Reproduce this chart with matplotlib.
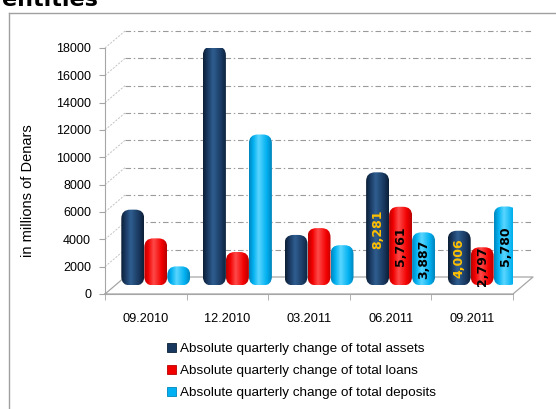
import numpy as np
import matplotlib
matplotlib.use("Agg")
import matplotlib.pyplot as plt
from matplotlib.patches import FancyBboxPatch, Patch
from matplotlib.colors import to_rgb

# ---- data (millions of Denars) ----
periods = ["09.2010", "12.2010", "03.2011", "06.2011", "09.2011"]
total_assets = [5550, 17500, 3700, 8281, 4006]
total_loans = [3450, 2450, 4200, 5761, 2797]
total_deposits = [1400, 11050, 2950, 3887, 5780]
show_values = [False, False, False, True, True]
series_names = [
    "Absolute quarterly change of total assets",
    "Absolute quarterly change of total loans",
    "Absolute quarterly change of total deposits",
]
yticks = list(range(0, 18001, 2000))

plt.rcParams["font.family"] = ["Liberation Sans", "DejaVu Sans"]
plt.rcParams["lines.scale_dashes"] = False

W, H = 556, 409
fig = plt.figure(figsize=(W / 100, H / 100), dpi=100)

# front plane of the plot box, in pixels
L, R, B, T = 105, 513, 294, 48
ax = fig.add_axes([L / W, 1 - B / H, (R - L) / W, (B - T) / H])
ax.set_facecolor("none")
px_x = (R - L) / 5.0
px_y = (B - T) / 18000.0
DX = 20 / px_x          # depth of the floor, horizontal
DY = 17 / px_y          # depth of the floor, vertical

grid_c = "#A6A6A6"
# back-wall gridlines
for v in yticks[1:]:
    ax.plot([-0.5 + DX, 4.5 + DX], [v + DY] * 2, color="#9A9A9A", lw=0.8,
            dashes=(4, 2, 1, 2), clip_on=False, zorder=1)
# side-wall diagonals
for v in yticks[1:]:
    ax.plot([-0.5, -0.5 + DX], [v, v + DY], color="#C4C4C4", lw=0.7,
            dashes=(1.5, 1), clip_on=False, zorder=1)
# floor outline
ax.plot([-0.5, 4.5, 4.5 + DX, -0.5 + DX, -0.5], [0, 0, DY, DY, 0],
        color=grid_c, lw=0.9, clip_on=False, zorder=1)

palettes = [
    ("#0C1F36", "#193860", "#2F5E90"),
    ("#B80000", "#F20000", "#FF4A4A"),
    ("#0085BC", "#00B0F0", "#5AD6FF"),
]


def bar_gradient(edge, mid, light, n=64):
    stops = [0.0, 0.18, 0.42, 0.78, 1.0]
    cols = [to_rgb(edge), to_rgb(mid), to_rgb(light), to_rgb(mid), to_rgb(edge)]
    t = np.linspace(0, 1, n)
    row = np.stack([np.interp(t, stops, [c[i] for c in cols]) for i in range(3)], axis=1)
    return np.repeat(row[None, :, :], 8, axis=0)


bw = 23 / px_x
offsets = [-bw, 0.0, bw]
x = np.arange(len(periods))
r_px = 9
series = [total_assets, total_loans, total_deposits]
label_colors = ["#FFC000", "black", "black"]

for k, (vals, pal) in enumerate(zip(series, palettes)):
    grad = bar_gradient(*pal)
    bars = ax.bar(x + DX / 2 + offsets[k], vals, width=bw, bottom=DY / 2,
                  color="none", edgecolor="none", zorder=3)
    for i, rect in enumerate(bars):
        x0, y0 = rect.get_x(), rect.get_y()
        w, h = rect.get_width(), rect.get_height()
        patch = FancyBboxPatch((x0, y0), w, h,
                               boxstyle=f"round,pad=0,rounding_size={r_px / px_x}",
                               mutation_aspect=px_x / px_y,
                               facecolor="none", edgecolor="none",
                               transform=ax.transData, zorder=3 + k)
        ax.add_patch(patch)
        im = ax.imshow(grad, extent=[x0, x0 + w, y0, y0 + h], aspect="auto",
                       interpolation="bilinear", zorder=3 + k)
        im.set_clip_path(patch)
        if show_values[i]:
            ax.text(x0 + w / 2, y0 + h / 2, f"{vals[i]:,}", rotation=90,
                    ha="center", va="center", fontsize=9, fontweight="bold",
                    family="DejaVu Sans", color=label_colors[k], zorder=10)

ax.set_xlim(-0.5, 4.5)
ax.set_ylim(0, 18000)

# axes styling
for s in ("top", "right"):
    ax.spines[s].set_visible(False)
ax.spines["left"].set_color(grid_c)
ax.spines["bottom"].set_color(grid_c)
ax.set_yticks(yticks)
ax.set_yticklabels([str(v) for v in yticks])
ax.tick_params(axis="y", length=4, color=grid_c, labelsize=9, pad=6)
ax.set_xticks(x)
ax.set_xticklabels(periods)
ax.set_xticks(np.arange(-0.5, 5.0, 1.0), minor=True)
ax.tick_params(axis="x", which="major", length=0, labelsize=9.2, pad=14)
ax.tick_params(axis="x", which="minor", length=4, color=grid_c)

fig.text(28 / W, 1 - 191 / H, "in millions of Denars", rotation=90,
         ha="center", va="center", fontsize=10.5)

# outer frame
fig.add_artist(plt.Line2D([8.5 / W, 8.5 / W], [0, 1 - 12.5 / H], color="#A0A0A0", lw=1))
fig.add_artist(plt.Line2D([8.5 / W, 1], [1 - 12.5 / H] * 2, color="#A0A0A0", lw=1))

# heading (cut by the top edge)
fig.text(2 / W, 1 - 6 / H, "entities", fontsize=16, fontweight="bold",
         family="DejaVu Sans", ha="left", va="baseline")

handles = [Patch(facecolor=p[1], edgecolor=p[0], lw=0.6) for p in palettes]
fig.legend(handles, series_names, loc="upper left",
           bbox_to_anchor=(167 / W, 1 - 343 / H), frameon=False,
           fontsize=9.7, handlelength=0.65, handleheight=0.65,
           handletextpad=0.3, labelspacing=0.72, borderpad=0, borderaxespad=0)

fig.savefig("out.png", dpi=100)
